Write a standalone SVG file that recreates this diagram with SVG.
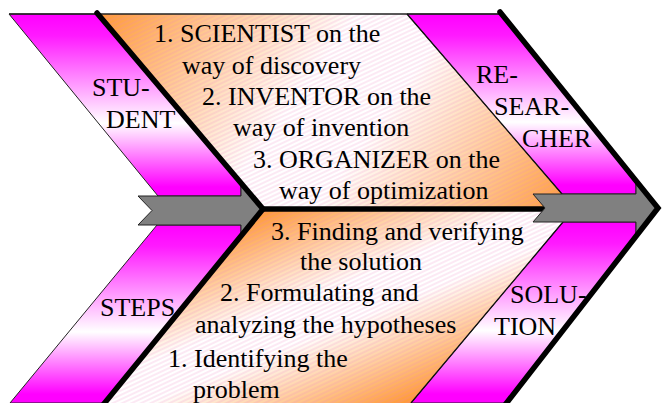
<svg xmlns="http://www.w3.org/2000/svg" width="664" height="403" viewBox="0 0 664 403">
<defs>
<linearGradient id="mag" x1="0" y1="0" x2="0" y2="1">
<stop offset="0" stop-color="#FF00FF"/>
<stop offset="0.12" stop-color="#FF1AFF"/>
<stop offset="0.6" stop-color="#FFFFFF"/>
<stop offset="0.95" stop-color="#FF00FF"/>
<stop offset="1" stop-color="#FF00FF"/>
</linearGradient>
<linearGradient id="orTop" gradientUnits="userSpaceOnUse" x1="97" y1="14" x2="502" y2="309">
<stop offset="0" stop-color="#FF9933"/>
<stop offset="0.42" stop-color="#FFFFFF"/>
<stop offset="0.58" stop-color="#FFFFFF"/>
<stop offset="1" stop-color="#FF9933"/>
</linearGradient>
<linearGradient id="orBot" gradientUnits="userSpaceOnUse" x1="265" y1="210" x2="352" y2="426">
<stop offset="0" stop-color="#FF9933"/>
<stop offset="0.42" stop-color="#FFFFFF"/>
<stop offset="0.58" stop-color="#FFFFFF"/>
<stop offset="1" stop-color="#FF9933"/>
</linearGradient>
<pattern id="hatch" patternUnits="userSpaceOnUse" width="4" height="4" patternTransform="rotate(-25)">
<line x1="0" y1="1" x2="4" y2="1" stroke="#F080C0" stroke-width="1" stroke-opacity="0.35"/>
</pattern>
</defs>
<style>
text{font-family:'Liberation Serif','DejaVu Serif',serif;font-size:26px;fill:#000}
.band{fill:url(#mag);stroke:#222;stroke-width:1}
.thin{fill:none;stroke:#111;stroke-width:1.3}
.thick{fill:none;stroke:#000;stroke-width:5.5;stroke-linejoin:miter;stroke-linecap:round}
.arrow{fill:#808080;stroke:#222;stroke-width:1}
</style>
<rect width="664" height="403" fill="#FFFFFF"/>

<g id="roles">
<polygon points="97,14 407,14 575,209 263,209" fill="url(#orTop)"/>
<polygon points="97,14 407,14 575,209 263,209" fill="url(#hatch)"/>
<text x="154" y="42">1. SCIENTIST on the</text>
<text x="182" y="73.5">way of discovery</text>
<text x="202" y="104.5">2. INVENTOR on the</text>
<text x="233" y="136">way of invention</text>
<text x="253" y="167.5">3. ORGANIZER on the</text>
<text x="279" y="199">way of optimization</text>
</g>

<g id="stages">
<polygon points="263,209 576,209 411,403 100,403" fill="url(#orBot)"/>
<polygon points="263,209 576,209 411,403 100,403" fill="url(#hatch)"/>
<text x="271" y="239.5">3. Finding and verifying</text>
<text x="300" y="270">the solution</text>
<text x="220" y="301">2. Formulating and</text>
<text x="195" y="332.5">analyzing the hypotheses</text>
<text x="168" y="366.5">1. Identifying the</text>
<text x="193" y="397.5">problem</text>
</g>

<g id="student">
<polygon class="band" points="9,14 97,14 241,183 241,196 158,196"/>
<text x="92" y="96">STU-</text>
<text x="106" y="128">DENT</text>
</g>

<g id="researcher">
<polygon class="band" points="407,14 500,14 636,180 636,194 562,194"/>
<text x="476" y="83">RE-</text>
<text x="494" y="115">SEAR-</text>
<text x="522" y="147">CHER</text>
</g>

<g id="steps">
<polygon class="band" points="157,225 241,225 241,238 103,403 10,403"/>
<text x="100" y="316">STEPS</text>
</g>

<g id="solution">
<polygon class="band" points="563,222 636,222 636,238 505,403 411,403"/>
<text x="510" y="303">SOLU-</text>
<text x="494" y="335">TION</text>
</g>

<g id="connectors">
<line x1="9" y1="14" x2="500" y2="14" stroke="#222" stroke-width="1.6"/>
<line class="thin" x1="407" y1="14" x2="562" y2="194"/>
<line class="thin" x1="563" y1="222" x2="411" y2="403"/>
<line x1="263" y1="209" x2="546" y2="209" stroke="#000" stroke-width="5.5"/>
<polygon class="arrow" points="138,196 241,196 241,182 264,209 241,238 241,225 138,225 152,210.5"/>
<polygon class="arrow" points="533,194 636,194 636,179 659,208 636,238 636,222 533,222 545,208"/>
<path class="thick" d="M97,13 L263,209 L103,405"/>
<path class="thick" d="M500,12 L658,208 L505,405"/>
</g>
</svg>
